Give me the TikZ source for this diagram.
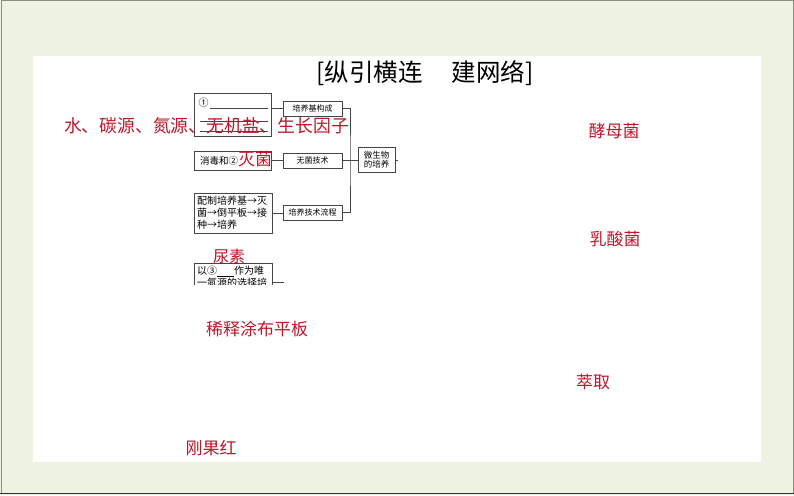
\documentclass[tikz,border=0pt]{standalone}
\usepackage{fontspec}
\newfontfamily\cjk{Noto Sans CJK SC}
\definecolor{pagegreen}{RGB}{237,242,226}
\definecolor{edgegray}{RGB}{135,145,125}
\definecolor{boxgray}{RGB}{70,70,70}
\definecolor{ansred}{RGB}{190,22,42}

\begin{document}
\begin{tikzpicture}[x=1pt,y=-1pt,
  box/.style={draw=boxgray, line width=0.7pt, inner sep=0pt},
  tag/.style={box, font=\cjk\fontsize{8}{9}\selectfont, minimum width=59, minimum height=15},
  link/.style={draw=boxgray, line width=0.7pt},
  ans/.style={text=ansred, inner sep=0pt, font=\cjk\fontsize{17}{17}\selectfont}]
\useasboundingbox (0,0) rectangle (794,495);
% page
\fill[pagegreen] (0,0) rectangle (794,495);
\draw[edgegray, line width=1pt] (1,1) rectangle (793,493);
\draw[black!80, line width=1.5pt] (0,493.5) -- (794,493.5);
\fill[white] (33,56) rectangle (761,462);

\node[inner sep=0pt, font=\cjk\fontsize{24.5}{24.5}\selectfont] (title) at (425,73) {[纵引横连\hspace{1.2em}建网络]};

% the chart
\begin{scope}
\clip (193,89) rectangle (398,284);
\node[box, minimum width=77, minimum height=43] (compo) at (232.5,114.5) {};
\node[inner sep=0pt, font=\cjk\fontsize{10}{10}\selectfont] (one) at (203.5,103) {①};
\draw[link] (210,108) -- (268,108);
\draw[link] (200,121) -- (268,121);
\draw[link] (200,131) -- (268,131);

\node[box, minimum width=77, minimum height=19, text width=65, align=left,
  font=\cjk\fontsize{9.5}{10}\selectfont] (xdu) at (232.5,160.5) {消毒和②};
\node[box, minimum width=78, minimum height=40, text width=72, align=left,
  font=\cjk\fontsize{10}{12}\selectfont] (pzlc) at (233,213) {配制培养基→灭\\菌→倒平板→接\\种→培养};
\node[box, anchor=north, minimum width=78, inner xsep=3pt, inner ysep=3pt, text width=72, align=left,
  font=\cjk\fontsize{10}{12}\selectfont] (yisu) at (233,263) {以③\rule[-1.5pt]{17pt}{0.5pt}作为唯\\一氮源的选择培};

\node[tag] (jgc) at (312.5,108.5) {培养基构成};
\node[tag] (wjjs) at (312.5,160.5) {无菌技术};
\node[tag] (jslc) at (312.5,212.5) {培养技术流程};
\node[box, minimum width=37, minimum height=25, align=center,
  font=\cjk\fontsize{8.5}{9.5}\selectfont] (wswpy) at (376.5,160) {微生物\\的培养};

\coordinate (brk) at (350,160);
\coordinate (cut) at (398,160);
\coordinate (yend) at (284,282);

\draw[link] (jgc.west) -- (jgc.west -| compo.east);
\draw[link] (xdu.east) -- (wjjs.west);
\draw[link] (pzlc.east) -- (pzlc.east -| jslc.west);
\draw[link] (yend -| yisu.east) -- (yend);
\draw[link] (jgc.east) -| (brk) |- (jslc.east);
\draw[link] (wjjs.east) -- (wjjs.east -| wswpy.west);
\draw[link] (wswpy.east) -- (cut);
\end{scope}

% answers
\node[ans, font=\cjk\fontsize{17.8}{17.8}\selectfont] (nutri) at (206.5,126) {水、碳源、氮源、无机盐、生长因子};
\node[ans] (mie) at (255,159) {灭菌};
\node[ans, font=\cjk\fontsize{16}{16}\selectfont] (niao) at (229,256) {尿素};
\node[ans] (xishi) at (257,329) {稀释涂布平板};
\node[ans] (gang) at (211,448) {刚果红};
\node[ans] (jiao) at (614,131) {酵母菌};
\node[ans] (ru) at (615,239) {乳酸菌};
\node[ans] (cui) at (593,382) {萃取};
\end{tikzpicture}
\end{document}
